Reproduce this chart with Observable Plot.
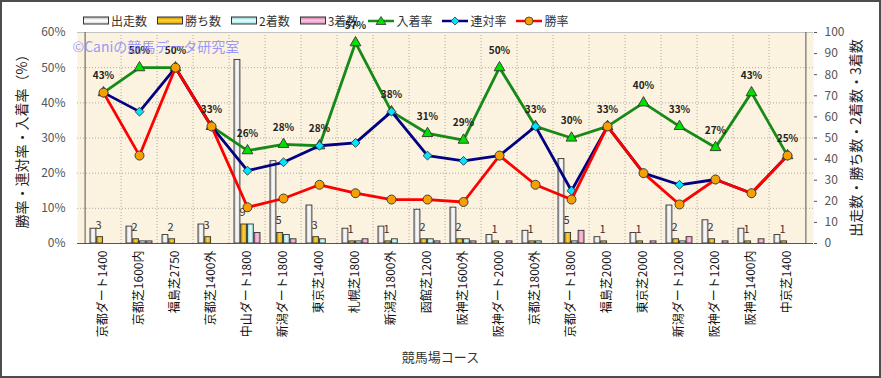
<!DOCTYPE html>
<html><head><meta charset="utf-8">
<script src="https://cdn.jsdelivr.net/npm/d3@7"></script>
<script src="https://cdn.jsdelivr.net/npm/@observablehq/plot@0.6"></script>
<style>
html,body{margin:0;padding:0;background:#fff;}
body{width:881px;height:378px;overflow:hidden;position:relative;font-family:"Noto Sans CJK JP","Noto Sans",sans-serif;}
#border{position:absolute;left:0;top:0;width:881px;height:378px;box-sizing:border-box;border:2px solid #4d4d4d;pointer-events:none;z-index:5}
#legend{height:28px;box-sizing:border-box;padding:13px 0 0 83px;display:flex;align-items:center;font-size:12px;color:#333;line-height:15px;position:relative;z-index:1}
#legend .item{display:flex;align-items:center;margin-right:10px;height:15px;white-space:nowrap}
#legend .item svg{margin-right:2px;display:block}
#chart{position:relative;z-index:2}
#chart svg{overflow:visible;display:block}
</style></head>
<body>
<svg width="0" height="0" style="position:absolute;left:0;top:0">
<defs>
<linearGradient id="gh0" x1="0" y1="0" x2="1" y2="0"><stop offset="0" stop-color="#bcbcbc"/><stop offset="0.5" stop-color="#ffffff"/><stop offset="1" stop-color="#d4d4d4"/></linearGradient>
<linearGradient id="gh1" x1="0" y1="0" x2="1" y2="0"><stop offset="0" stop-color="#c89400"/><stop offset="0.5" stop-color="#ffd23a"/><stop offset="1" stop-color="#d9a300"/></linearGradient>
<linearGradient id="gh2" x1="0" y1="0" x2="1" y2="0"><stop offset="0" stop-color="#8ed4d4"/><stop offset="0.5" stop-color="#dcffff"/><stop offset="1" stop-color="#a4e2e2"/></linearGradient>
<linearGradient id="gh3" x1="0" y1="0" x2="1" y2="0"><stop offset="0" stop-color="#d479a8"/><stop offset="0.5" stop-color="#fcc4e0"/><stop offset="1" stop-color="#e28cb9"/></linearGradient>
<linearGradient id="gv0" x1="0" y1="0" x2="0" y2="1"><stop offset="0" stop-color="#bcbcbc"/><stop offset="0.5" stop-color="#ffffff"/><stop offset="1" stop-color="#d4d4d4"/></linearGradient>
<linearGradient id="gv1" x1="0" y1="0" x2="0" y2="1"><stop offset="0" stop-color="#c89400"/><stop offset="0.5" stop-color="#ffd23a"/><stop offset="1" stop-color="#d9a300"/></linearGradient>
<linearGradient id="gv2" x1="0" y1="0" x2="0" y2="1"><stop offset="0" stop-color="#8ed4d4"/><stop offset="0.5" stop-color="#dcffff"/><stop offset="1" stop-color="#a4e2e2"/></linearGradient>
<linearGradient id="gv3" x1="0" y1="0" x2="0" y2="1"><stop offset="0" stop-color="#d479a8"/><stop offset="0.5" stop-color="#fcc4e0"/><stop offset="1" stop-color="#e28cb9"/></linearGradient>
</defs></svg>
<div id="legend"></div>
<div id="chart"></div>
<div id="border"></div>
<script>
// ---- data ----
const categories = ["京都ダート1400","京都芝1600内","福島芝2750","京都芝1400外","中山ダート1800","新潟ダート1800","東京芝1400","札幌芝1800","新潟芝1800外","函館芝1200","阪神芝1600外","阪神ダート2000","京都芝1800外","京都ダート1800","福島芝2000","東京芝2000","新潟ダート1200","阪神ダート1200","阪神芝1400内","中京芝1400"];
const runs    = [7, 8, 4, 9, 87, 39, 18, 7, 8, 16, 17, 4, 6, 40, 3, 5, 18, 11, 7, 4];
const wins    = [3, 2, 2, 3, 9, 5, 3, 1, 1, 2, 2, 1, 1, 5, 1, 1, 2, 2, 1, 1];
const seconds = [0, 1, 0, 0, 9, 4, 2, 1, 2, 2, 2, 0, 1, 1, 0, 0, 1, 0, 0, 0];
const thirds  = [0, 1, 0, 0, 5, 2, 0, 2, 0, 1, 1, 1, 0, 6, 0, 1, 3, 1, 2, 0];
const winRate    = [42.9, 25, 50, 33.3, 10.3, 12.8, 16.7, 14.3, 12.5, 12.5, 11.8, 25, 16.7, 12.5, 33.3, 20, 11.1, 18.2, 14.3, 25];
const rentaiRate = [42.9, 37.5, 50, 33.3, 20.7, 23.1, 27.8, 28.6, 37.5, 25, 23.5, 25, 33.3, 15, 33.3, 20, 16.7, 18.2, 14.3, 25];
const placeRate  = [42.9, 50, 50, 33.3, 26.4, 28.2, 27.8, 57.1, 37.5, 31.3, 29.4, 50, 33.3, 30, 33.3, 40, 33.3, 27.3, 42.9, 25];
const placeLabels = ["43%","50%","50%","33%","26%","28%","28%","57%","38%","31%","29%","50%","33%","30%","33%","40%","33%","27%","43%","25%"];
const leftTicks  = [0, 10, 20, 30, 40, 50, 60];
const rightTicks = [0, 10, 20, 30, 40, 50, 60, 70, 80, 90, 100];
const countNames = ["出走数","勝ち数","2着数","3着数"];
const rateNames  = ["入着率","連対率","勝率"];
const leftTitle  = "勝率・連対率・入着率（%）";
const rightTitle = "出走数・勝ち数・2着数・3着数";
const xTitle     = "競馬場コース";
const watermark  = "©Caniの競馬データ研究室";

// ---- styles ----
const lineColors = ["#168a16", "#000080", "#ff0000"];
const dotFills   = ["#00e000", "#00e5ff", "#f5a000"];
const dotSymbols = ["triangle", "diamond2", "circle"];

// ---- legend ----
const legend = document.getElementById("legend");
countNames.forEach((n, j) => {
  const it = document.createElement("div"); it.className = "item";
  it.innerHTML = `<svg width="26" height="9"><rect x="0.5" y="1" width="25" height="7" fill="url(#gv${j})" stroke="#333" stroke-width="1"/></svg><span>${n}</span>`;
  legend.appendChild(it);
});
rateNames.forEach((n, j) => {
  const it = document.createElement("div"); it.className = "item";
  let m;
  if (j === 0) m = `<polygon points="13,1.5 18,9.5 8,9.5" fill="${dotFills[j]}" stroke="#333" stroke-width="0.8"/>`;
  else if (j === 1) m = `<polygon points="13,2 17,6 13,10 9,6" fill="${dotFills[j]}" stroke="#333" stroke-width="0.8"/>`;
  else m = `<circle cx="13" cy="6" r="4" fill="${dotFills[j]}" stroke="#333" stroke-width="0.8"/>`;
  it.innerHTML = `<svg width="26" height="12"><line x1="0" y1="6" x2="26" y2="6" stroke="${lineColors[j]}" stroke-width="2.5"/>${m}</svg><span>${n}</span>`;
  legend.appendChild(it);
});

// ---- chart ----
const W = 881, H = 350, ml = 77, mr = 68, mt = 4, mb = 135;
const bw = (W - ml - mr) / categories.length;
const barW = bw * 0.182, start = (bw - 4 * barW) / 2;
const K = 0.6; // right axis (0–100) drawn on the 0–60 scale
const rows = categories.map((c, i) => ({c, runs: runs[i], wins: wins[i], second: seconds[i], third: thirds[i],
  win: winRate[i], rentai: rentaiRate[i], place: placeRate[i], placeLabel: placeLabels[i]}));
const countKeys = ["runs", "wins", "second", "third"];
const barMarks = countKeys.map((k, j) => Plot.barY(rows.filter(d => d[k] > 0), {
  x: "c", y: d => d[k] * K, insetLeft: start + j * barW, insetRight: bw - start - (j + 1) * barW,
  fill: `url(#gh${j})`, stroke: "#333", strokeWidth: 0.9
}));
const rateKeys = ["place", "rentai", "win"];
const lineMarks = rateKeys.flatMap((k, j) => [
  Plot.line(rows, {x: "c", y: k, stroke: lineColors[j], strokeWidth: 2.8}),
  Plot.dot(rows, {x: "c", y: k, symbol: dotSymbols[j], r: j === 2 ? 4.5 : 4, fill: dotFills[j], stroke: "#333", strokeWidth: 0.9})
]);
const grid = {stroke: "#b0aaa2", strokeDasharray: "1,2"};

const plot = Plot.plot({
  width: W, height: H, marginLeft: ml, marginRight: mr, marginTop: mt, marginBottom: mb,
  x: {type: "band", domain: categories, padding: 0},
  y: {domain: [0, 60]},
  style: {fontFamily: '"Noto Sans CJK JP","Noto Sans",sans-serif', fontSize: "12px", overflow: "visible", background: "transparent"},
  marks: [
    Plot.frame({fill: "#fbf2df", stroke: null}),
    Plot.ruleY([10, 20, 30, 40, 50], grid),
    Plot.ruleX(categories.slice(1), {...grid, dx: -bw / 2}),
    Plot.ruleY([60], {stroke: "#c2c2c2"}),
    ...barMarks,
    Plot.ruleY([0], {stroke: "#555"}),
    Plot.ruleX([categories[0]], {dx: -bw / 2, stroke: "#555"}),
    Plot.ruleX([categories[categories.length - 1]], {dx: bw / 2, stroke: "#555"}),
    Plot.axisY(leftTicks, {anchor: "left", tickSize: 0, tickPadding: 12, tickFormat: d => d + "%", color: "#555", fontSize: 12, label: null}),
    Plot.axisY(rightTicks.map(v => v * K), {anchor: "right", tickSize: 3, tickPadding: 8, tickFormat: v => String(Math.round(v / K)), color: "#555", fontSize: 12, label: null}),
    Plot.axisX({tickRotate: -90, tickSize: 0, tickPadding: 7, fontSize: 12, color: "#111", label: null}),
    Plot.text(rows, {x: "c", y: d => d.wins * K, text: d => String(d.wins), dx: start + 1.5 * barW - bw / 2 - 1.5, dy: -12, fontSize: 11, fill: "#333"}),
    ...lineMarks,
    Plot.text(rows, {x: "c", y: "place", text: "placeLabel", dy: -17, fontSize: 10, fontWeight: "bold", fill: "#222"}),
    Plot.text([watermark], {frameAnchor: "top-left", dx: -5, dy: 15, textAnchor: "start", lineAnchor: "middle", fontSize: 14, fill: "#8080ff", fillOpacity: 0.8}),
    Plot.text([leftTitle], {frameAnchor: "left", dx: -55, rotate: -90, textAnchor: "middle", fontSize: 14, fill: "#222", letterSpacing: 1}),
    Plot.text([rightTitle], {frameAnchor: "right", dx: 43, rotate: -90, textAnchor: "middle", fontSize: 14, fill: "#222", letterSpacing: 1}),
    Plot.text([xTitle], {frameAnchor: "bottom", dx: -5, dy: 114, lineAnchor: "middle", fontSize: 13, fill: "#333"})
  ]
});
document.getElementById("chart").appendChild(plot);
</script>
</body></html>
